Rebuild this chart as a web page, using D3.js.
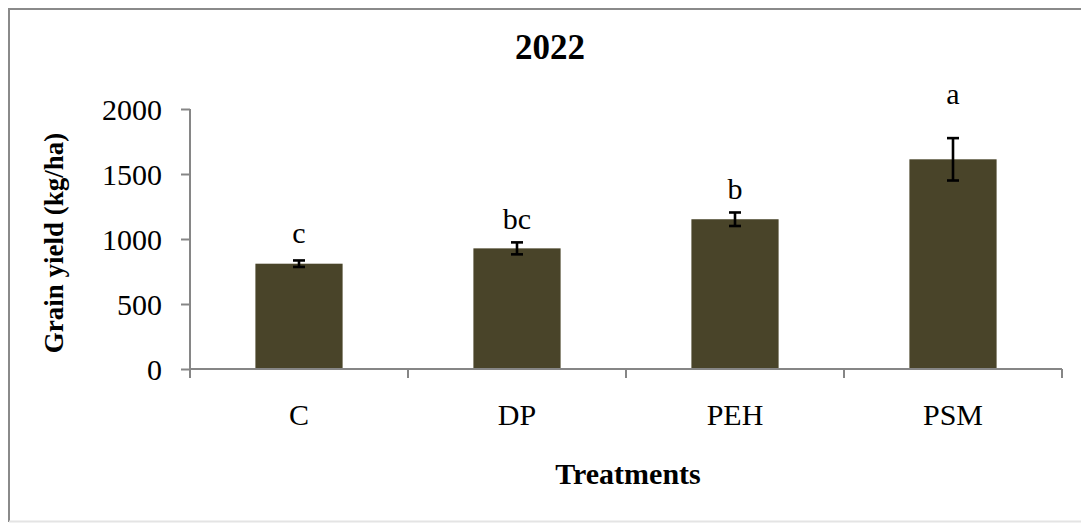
<!DOCTYPE html>
<html>
<head>
<meta charset="utf-8">
<script src="https://cdn.jsdelivr.net/npm/d3@7"></script>
<style>
html,body{margin:0;padding:0;background:#fff;}
svg{display:block;}
text{font-family:"Liberation Serif","Times New Roman",serif;fill:#000;}
</style>
</head>
<body>
<svg id="chart" width="1081" height="523"></svg>
<script>
const categories = ["C", "DP", "PEH", "PSM"];
const grainYield = [810, 928, 1152, 1613];
const stdError = [25, 46, 52, 163];
const groupLetters = ["c", "bc", "b", "a"];
const letterAnchor = [967, 1074, 1305, 2036];
const yTicks = [0, 500, 1000, 1500, 2000];
const titleText = "2022";
const yTitle = "Grain yield (kg/ha)";
const xTitle = "Treatments";

const svg = d3.select("#chart");
const axisColor = "#868686";
const barColor = "#494429";

// frame
svg.append("line").attr("x1", 9).attr("x2", 1081).attr("y1", 9).attr("y2", 9)
  .attr("stroke", "#8a8a8a").attr("stroke-width", 2);
svg.append("line").attr("x1", 9).attr("x2", 9).attr("y1", 8).attr("y2", 522)
  .attr("stroke", "#8a8a8a").attr("stroke-width", 2);
svg.append("line").attr("x1", 9).attr("x2", 1081).attr("y1", 521.5).attr("y2", 521.5)
  .attr("stroke", "#e4e4e4").attr("stroke-width", 2);

const x = d3.scaleBand().domain(categories).range([190, 1062]).padding(0);
const y = d3.scaleLinear().domain([0, 2000]).range([369, 109]);

// bars
const barW = x.bandwidth() * 0.4;
svg.append("g").selectAll("rect").data(categories).join("rect")
  .attr("x", d => x(d) + x.bandwidth() / 2 - barW / 2)
  .attr("width", barW)
  .attr("y", (d, i) => y(grainYield[i]))
  .attr("height", (d, i) => y(0) - y(grainYield[i]))
  .attr("fill", barColor);

// y axis
const yAxis = svg.append("g").attr("transform", "translate(190,0)")
  .call(d3.axisLeft(y).tickValues(yTicks).tickSize(9).tickPadding(19).tickFormat(d3.format("d")));
yAxis.select(".domain").attr("stroke", axisColor).attr("stroke-width", 2).attr("d", "M0,109V369");
yAxis.selectAll(".tick line").attr("stroke", axisColor).attr("stroke-width", 2);
yAxis.selectAll(".tick text").attr("font-size", 30).attr("dy", "0.34em")
  .style("font-family", "'Liberation Serif','Times New Roman',serif").attr("fill", "#000");

// x axis
const xAxis = svg.append("g").attr("transform", "translate(0,369)")
  .call(d3.axisBottom(x).tickSize(0).tickPadding(35));
xAxis.select(".domain").attr("stroke", axisColor).attr("stroke-width", 2).attr("d", "M190,0H1062");
xAxis.selectAll(".tick text").attr("font-size", 30).attr("dy", "0.71em")
  .style("font-family", "'Liberation Serif','Times New Roman',serif").attr("fill", "#000");
const bounds = categories.map(c => x(c)).concat([x.range()[1]]);
svg.append("g").selectAll("line").data(bounds).join("line")
  .attr("x1", d => d).attr("x2", d => d).attr("y1", 369).attr("y2", 378)
  .attr("stroke", axisColor).attr("stroke-width", 2);

// error bars
const eb = svg.append("g").attr("stroke", "#000").attr("stroke-width", 2.6);
categories.forEach((c, i) => {
  const cx = x(c) + x.bandwidth() / 2;
  const t = y(grainYield[i] + stdError[i]), b = y(grainYield[i] - stdError[i]);
  eb.append("line").attr("x1", cx).attr("x2", cx).attr("y1", t).attr("y2", b);
  eb.append("line").attr("x1", cx - 6).attr("x2", cx + 6).attr("y1", t).attr("y2", t);
  eb.append("line").attr("x1", cx - 6).attr("x2", cx + 6).attr("y1", b).attr("y2", b);
});

// letters
svg.append("g").selectAll("text").data(categories).join("text")
  .attr("x", d => x(d) + x.bandwidth() / 2)
  .attr("y", (d, i) => y(letterAnchor[i]))
  .attr("text-anchor", "middle").attr("font-size", 30)
  .text((d, i) => groupLetters[i]);

// titles
svg.append("text").attr("x", 550).attr("y", 59).attr("text-anchor", "middle")
  .attr("font-size", 35).attr("font-weight", "bold").text(titleText);
svg.append("text").attr("x", 628).attr("y", 484).attr("text-anchor", "middle")
  .attr("font-size", 30).attr("font-weight", "bold").text(xTitle);
svg.append("text").attr("transform", "translate(63,243) rotate(-90)").attr("text-anchor", "middle")
  .attr("font-size", 27).attr("font-weight", "bold").text(yTitle);
</script>
</body>
</html>
